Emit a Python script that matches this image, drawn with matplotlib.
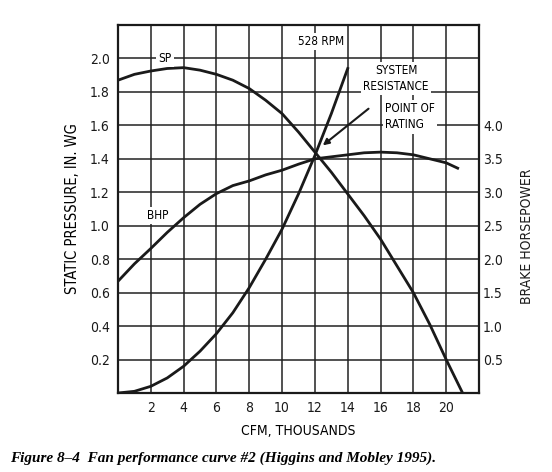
import numpy as np
import matplotlib
matplotlib.use('Agg')
import matplotlib.pyplot as plt

# dati (CFM in migliaia)
cfm_sp = [0, 1, 2, 3, 4, 5, 6, 7, 8, 9, 10, 11, 12, 13, 14, 15, 16, 17, 18, 19, 20, 21]
sp = [1.87, 1.905, 1.925, 1.94, 1.945, 1.93, 1.905, 1.87, 1.82, 1.75, 1.67, 1.56,
      1.44, 1.32, 1.19, 1.06, 0.92, 0.76, 0.60, 0.41, 0.20, 0.0]

cfm_bhp = [0, 1, 2, 3, 4, 5, 6, 7, 8, 9, 10, 11, 12, 13, 14, 15, 16, 17, 18, 19, 20, 20.7]
bhp = [1.67, 1.93, 2.16, 2.40, 2.62, 2.82, 2.98, 3.10, 3.17, 3.26, 3.33, 3.42,
       3.50, 3.53, 3.56, 3.59, 3.60, 3.59, 3.56, 3.50, 3.44, 3.36]

cfm_sys = [0, 1, 2, 3, 4, 5, 6, 7, 8, 9, 10, 11, 12, 13, 14]
sys_res = [0.0, 0.01, 0.04, 0.09, 0.16, 0.25, 0.355, 0.48, 0.63, 0.80, 0.98, 1.19,
           1.42, 1.67, 1.94]

x_ticks = [2, 4, 6, 8, 10, 12, 14, 16, 18, 20]
sp_ticks = [0.2, 0.4, 0.6, 0.8, 1.0, 1.2, 1.4, 1.6, 1.8, 2.0]
bhp_ticks = [0.5, 1.0, 1.5, 2.0, 2.5, 3.0, 3.5, 4.0]

plt.rcParams['font.family'] = ['DejaVu Sans']
plt.rcParams['font.stretch'] = 'condensed'
INK = '#1a1a1a'

fig = plt.figure(figsize=(5.52, 4.72), dpi=100)
ax = fig.add_axes([118 / 552, 1 - 393 / 472, (479 - 118) / 552, (393 - 25) / 472])
ax.set_xlim(0, 22)
ax.set_ylim(0, 2.2)

# griglia
for gx in np.arange(2, 22, 2):
    ax.axvline(gx, color='#222222', lw=1.1, zorder=1)
for gy in np.arange(0.2, 2.2, 0.2):
    ax.axhline(gy, color='#222222', lw=1.1, zorder=1)

ax.plot(cfm_sp, sp, color=INK, lw=2.0, zorder=3)
ax.plot(cfm_bhp, np.array(bhp) / 2.5, color=INK, lw=2.0, zorder=3)
ax.plot(cfm_sys, sys_res, color=INK, lw=2.0, zorder=3)

for s in ax.spines.values():
    s.set_linewidth(1.6)
    s.set_color(INK)

ax.set_xticks(x_ticks)
ax.set_xticklabels([str(v) for v in x_ticks])
ax.set_yticks(sp_ticks)
ax.set_yticklabels([f'{v:.1f}' for v in sp_ticks])
ax.tick_params(length=0, labelsize=10, pad=6, colors=INK)

ax2 = ax.twinx()
ax2.set_ylim(0, 5.5)
ax2.set_yticks(bhp_ticks)
ax2.set_yticklabels([f'{v:.1f}' for v in bhp_ticks])
ax2.tick_params(length=0, labelsize=10, pad=3, colors=INK)
for s in ax2.spines.values():
    s.set_visible(False)

box = dict(facecolor='white', edgecolor='none', pad=1.5)
ax.text(2.87, 2.0, 'SP', ha='center', va='center', fontsize=8.5, bbox=box, zorder=4)
ax.text(2.4, 1.06, 'BHP', ha='center', va='center', fontsize=8.5, bbox=box, zorder=4)
ax.text(12.35, 2.1, '528 RPM', ha='center', va='center', fontsize=8.5, bbox=box, zorder=4)
ax.text(16.95, 1.88, 'SYSTEM\nRESISTANCE', ha='center', va='center', fontsize=8.5,
        linespacing=1.3, bbox=box, zorder=4)
ax.text(16.3, 1.65, 'POINT OF\nRATING', ha='left', va='center', fontsize=8.5,
        linespacing=1.3, bbox=box, zorder=4)
ax.annotate('', xy=(12.35, 1.47), xytext=(15.4, 1.71),
            arrowprops=dict(arrowstyle='-|>', color=INK, lw=1.5,
                            mutation_scale=9), zorder=5)

ax.set_xlabel('CFM, THOUSANDS', fontsize=10, labelpad=6)
ax.set_ylabel('STATIC PRESSURE, IN. WG', fontsize=10.5, labelpad=7)
fig.text(527 / 552, 1 - 236 / 472, 'BRAKE HORSEPOWER', fontsize=10, rotation=90,
         ha='center', va='center', color=INK)

fig.text(10 / 552, 1 - 458 / 472, 'Figure 8\u20134  Fan performance curve #2 (Higgins and Mobley 1995).',
         fontsize=11, family=['Liberation Serif', 'DejaVu Serif'], style='italic',
         weight='bold', ha='left', va='center')

fig.savefig('out.png', dpi=100)
